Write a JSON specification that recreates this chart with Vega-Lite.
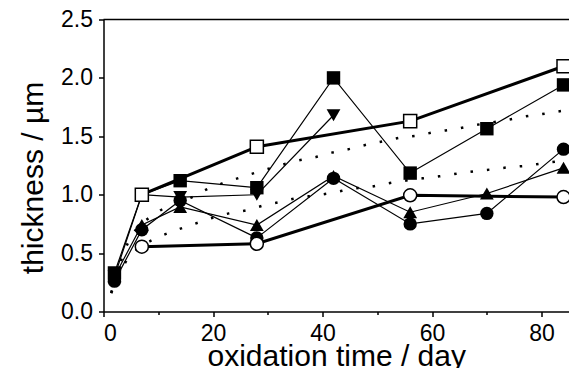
{
  "$schema": "https://vega.github.io/schema/vega-lite/v6.json",
  "width": 465.5,
  "height": 292,
  "autosize": "none",
  "padding": {"left": 103.5, "top": 19.5, "right": 0, "bottom": 56.5},
  "background": "white",
  "view": {"stroke": null},
  "config": {
    "font": "Liberation Sans",
    "axis": {
      "labelFont": "Liberation Sans", "labelFontSize": 23, "labelColor": "black",
      "titleFont": "Liberation Sans", "titleFontSize": 30, "titleFontWeight": "normal", "titleColor": "black",
      "domainColor": "black", "domainWidth": 1.5, "tickColor": "black", "tickWidth": 1.5,
      "grid": false, "labelPadding": 6
    }
  },
  "datasets": {
    "obs": [
      {"s": "FS", "day": 2, "t": 0.33}, {"s": "FS", "day": 7, "t": 1.0}, {"s": "FS", "day": 14, "t": 1.12}, {"s": "FS", "day": 28, "t": 1.06},
      {"s": "FS", "day": 42, "t": 2.0}, {"s": "FS", "day": 56, "t": 1.185}, {"s": "FS", "day": 70, "t": 1.565}, {"s": "FS", "day": 84, "t": 1.94},
      {"s": "DT", "day": 2, "t": 0.3}, {"s": "DT", "day": 7, "t": 1.0}, {"s": "DT", "day": 14, "t": 0.98}, {"s": "DT", "day": 28, "t": 1.0},
      {"s": "DT", "day": 42, "t": 1.68},
      {"s": "UT", "day": 2, "t": 0.3}, {"s": "UT", "day": 7, "t": 0.74}, {"s": "UT", "day": 14, "t": 0.895}, {"s": "UT", "day": 28, "t": 0.74},
      {"s": "UT", "day": 42, "t": 1.16}, {"s": "UT", "day": 56, "t": 0.85}, {"s": "UT", "day": 70, "t": 1.01}, {"s": "UT", "day": 84, "t": 1.23},
      {"s": "FC", "day": 2, "t": 0.26}, {"s": "FC", "day": 7, "t": 0.7}, {"s": "FC", "day": 14, "t": 0.95}, {"s": "FC", "day": 28, "t": 0.63},
      {"s": "FC", "day": 42, "t": 1.14}, {"s": "FC", "day": 56, "t": 0.75}, {"s": "FC", "day": 70, "t": 0.84}, {"s": "FC", "day": 84, "t": 1.39},
      {"s": "OS", "day": 7, "t": 1.0}, {"s": "OS", "day": 28, "t": 1.41}, {"s": "OS", "day": 56, "t": 1.63}, {"s": "OS", "day": 84, "t": 2.1},
      {"s": "OC", "day": 7, "t": 0.555}, {"s": "OC", "day": 28, "t": 0.58}, {"s": "OC", "day": 56, "t": 0.995}, {"s": "OC", "day": 84, "t": 0.98}
    ],
    "fits": [
      {"f": "U", "day": 1.4, "t": 0.16}, {"f": "U", "day": 4.6, "t": 0.6}, {"f": "U", "day": 9.9, "t": 0.85}, {"f": "U", "day": 16.2, "t": 0.98},
      {"f": "U", "day": 19.5, "t": 1.06}, {"f": "U", "day": 22.6, "t": 1.11}, {"f": "U", "day": 25.8, "t": 1.16}, {"f": "U", "day": 32.2, "t": 1.25},
      {"f": "U", "day": 35.3, "t": 1.29}, {"f": "U", "day": 38.6, "t": 1.32}, {"f": "U", "day": 41.7, "t": 1.36}, {"f": "U", "day": 44.8, "t": 1.39},
      {"f": "U", "day": 48.2, "t": 1.43}, {"f": "U", "day": 51.4, "t": 1.46}, {"f": "U", "day": 54.4, "t": 1.49}, {"f": "U", "day": 57.8, "t": 1.51},
      {"f": "U", "day": 60.8, "t": 1.54}, {"f": "U", "day": 64, "t": 1.56}, {"f": "U", "day": 67.2, "t": 1.59}, {"f": "U", "day": 73.7, "t": 1.64},
      {"f": "U", "day": 77, "t": 1.67}, {"f": "U", "day": 80, "t": 1.69}, {"f": "U", "day": 84, "t": 1.72},
      {"f": "L", "day": 1.4, "t": 0.157}, {"f": "L", "day": 4.4, "t": 0.45}, {"f": "L", "day": 7.2, "t": 0.565}, {"f": "L", "day": 10.2, "t": 0.64},
      {"f": "L", "day": 13.5, "t": 0.7}, {"f": "L", "day": 16.6, "t": 0.75}, {"f": "L", "day": 19.8, "t": 0.8}, {"f": "L", "day": 22.9, "t": 0.84},
      {"f": "L", "day": 26.4, "t": 0.87}, {"f": "L", "day": 29.4, "t": 0.91}, {"f": "L", "day": 32.5, "t": 0.94}, {"f": "L", "day": 35.2, "t": 0.97},
      {"f": "L", "day": 38.9, "t": 0.995}, {"f": "L", "day": 42.2, "t": 1.02}, {"f": "L", "day": 45.3, "t": 1.05}, {"f": "L", "day": 48.6, "t": 1.066},
      {"f": "L", "day": 51.7, "t": 1.095}, {"f": "L", "day": 58.3, "t": 1.14}, {"f": "L", "day": 61.3, "t": 1.157}, {"f": "L", "day": 64.5, "t": 1.18},
      {"f": "L", "day": 67.6, "t": 1.2}, {"f": "L", "day": 70.9, "t": 1.217}, {"f": "L", "day": 74.2, "t": 1.236}, {"f": "L", "day": 77.3, "t": 1.248},
      {"f": "L", "day": 80.4, "t": 1.27}, {"f": "L", "day": 84, "t": 1.29}
    ],
    "frame": [{"top": 2.5}]
  },
  "layer": [
    {
      "data": {"name": "frame"},
      "mark": {"type": "rule", "color": "black", "strokeWidth": 1.5},
      "encoding": {"y": {"field": "top", "type": "quantitative", "title": "thickness / µm"}}
    },
    {
      "data": {"name": "fits"},
      "mark": {"type": "line", "color": "black", "strokeWidth": 2.5, "strokeDash": [2.5, 14], "interpolate": "monotone"},
      "encoding": {
        "x": {"field": "day", "type": "quantitative"},
        "y": {"field": "t", "type": "quantitative"},
        "detail": {"field": "f"}
      }
    },
    {
      "data": {"name": "obs"},
      "encoding": {
        "x": {
          "field": "day", "type": "quantitative", "title": "oxidation time / day",
          "scale": {"domain": [0, 85], "nice": false, "zero": false},
          "axis": {
            "values": [0, 10, 20, 30, 40, 50, 60, 70, 80],
            "labelExpr": "datum.value % 20 == 0 ? datum.label : ''",
            "tickSize": {"condition": {"test": "datum.value % 20 != 0", "value": 3}, "value": 5},
            "titlePadding": -4
          }
        },
        "y": {
          "field": "t", "type": "quantitative", "title": "thickness / µm",
          "scale": {"domain": [0, 2.5], "nice": false},
          "axis": {
            "values": [0, 0.25, 0.5, 0.75, 1, 1.25, 1.5, 1.75, 2, 2.25, 2.5],
            "format": ".1f",
            "labelExpr": "(datum.value * 4) % 2 != 0 ? '' : datum.label",
            "tickSize": {"condition": {"test": "(datum.value * 4) % 2 != 0", "value": 3}, "value": 5},
            "titlePadding": 12,
            "titleY": 158
          }
        }
      },
      "layer": [
        {"transform": [{"filter": "indexof(['FS','DT','UT','FC'], datum.s) >= 0"}],
         "mark": {"type": "line", "color": "black", "strokeWidth": 1.2},
         "encoding": {"detail": {"field": "s"}}},
        {"transform": [{"filter": "datum.s == 'OS' || datum.s == 'OC'"}],
         "mark": {"type": "line", "color": "black", "strokeWidth": 3},
         "encoding": {"detail": {"field": "s"}}},
        {"transform": [{"filter": "datum.s == 'FS'"}],
         "mark": {"type": "point", "shape": "square", "filled": true, "color": "black", "opacity": 1, "size": 180}},
        {"transform": [{"filter": "datum.s == 'DT'"}],
         "mark": {"type": "point", "shape": "triangle-down", "filled": true, "color": "black", "opacity": 1, "size": 190}},
        {"transform": [{"filter": "datum.s == 'FC'"}],
         "mark": {"type": "point", "shape": "circle", "filled": true, "color": "black", "opacity": 1, "size": 180}},
        {"transform": [{"filter": "datum.s == 'UT'"}],
         "mark": {"type": "point", "shape": "triangle-up", "filled": true, "color": "black", "opacity": 1, "size": 190}},
        {"transform": [{"filter": "datum.s == 'OS'"}],
         "mark": {"type": "point", "shape": "square", "filled": true, "fill": "white", "stroke": "black", "strokeWidth": 1.5, "opacity": 1, "size": 170}},
        {"transform": [{"filter": "datum.s == 'OC'"}],
         "mark": {"type": "point", "shape": "circle", "filled": true, "fill": "white", "stroke": "black", "strokeWidth": 1.5, "opacity": 1, "size": 170}}
      ]
    }
  ]
}
